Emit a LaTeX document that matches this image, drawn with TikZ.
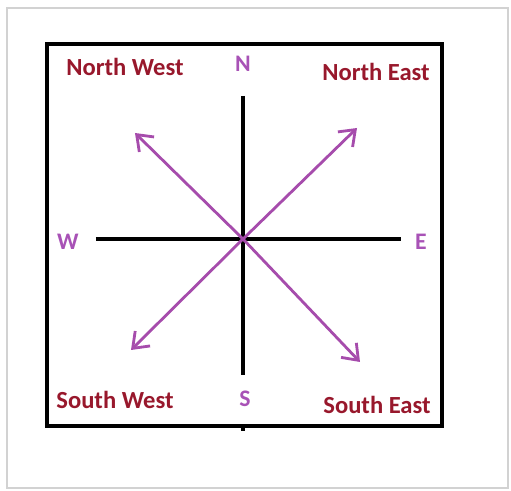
\documentclass[tikz,border=0pt]{standalone}
\usepackage{fontspec}
\setmainfont{Carlito}
\usepackage{tikz}
\usepackage{xcolor}
\usetikzlibrary{arrows.meta}
\definecolor{maroon}{RGB}{152,24,44}
\definecolor{lilac}{RGB}{168,82,182}
\definecolor{violetline}{RGB}{166,76,172}
\begin{document}
\begin{tikzpicture}[
  corner/.style={text=maroon,font=\bfseries\fontsize{14}{17}\selectfont,inner sep=0pt},
  letter/.style={text=lilac,font=\bfseries\fontsize{13.5}{16}\selectfont,inner sep=0pt},
  axis/.style={line width=2.2pt,black},
  pointer/.style={line width=1.6pt,violetline,-{Straight Barb[length=8pt,width=12pt,line width=1.6pt]}}]
\useasboundingbox (-4.86,4.78) rectangle (5.36,-5.04);
% card behind the compass
\draw[gray!35,line width=1.2pt] (-4.72,-4.98)--(-4.72,4.62)--(5.3,4.62)--(5.3,-4.98)--cycle;
\draw[line width=2pt] (-3.92,3.90) rectangle (3.98,-3.74);
\draw[line width=2pt] (0,-3.74)--(0,-3.84);
\coordinate (o) at (0,0);
\draw[axis] (0,2.86)--(0,-2.72);
\draw[axis] (-2.94,0)--(3.16,0);
\draw[pointer] (o)--(-2.16,2.12);
\draw[pointer] (o)--(2.28,2.22);
\draw[pointer] (o)--(-2.24,-2.22);
\draw[pointer] (o)--(2.34,-2.46);
\node[corner] (nw) at (-2.36,3.44) {North West};
\node[corner] (ne) at (2.66,3.34) {North East};
\node[corner] (sw) at (-2.56,-3.22) {South West};
\node[corner] (se) at (2.68,-3.32) {South East};
\node[letter] (n) at (0,3.5) {N};
\node[letter] (s) at (0.04,-3.2) {S};
\node[letter] (w) at (-3.5,-0.06) {W};
\node[letter] (e) at (3.56,-0.06) {E};
\end{tikzpicture}
\end{document}
